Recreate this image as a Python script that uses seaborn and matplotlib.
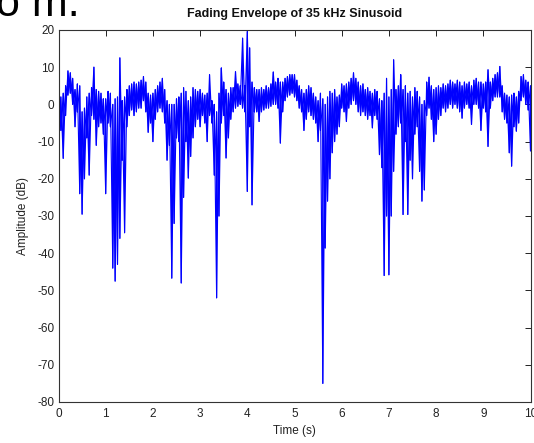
import numpy as np
import pandas as pd
import matplotlib
matplotlib.use("Agg")
import matplotlib.pyplot as plt
import seaborn as sns

# ---- data (per 0.05 s bin: envelope max / min in dB) ----
time_s = np.linspace(0, 10, 201)

upper_db = [
    2.5, 2, 3, 5, 9, 8.5, 7, 4, 5.5, 5,
    -2, -1, 2, 3, 4.5, 10, 4, 3.5, 3, 1.5,
    1.5, 3.5, 3, 0, 1.5, 2, 12.5, 1, 2, 4,
    5, 5.5, 6, 5.5, 6, 6.5, 7.5, 6, 3, 2.5,
    3, 4, 5, 6, 7, 4, 1, 0, 0, 0,
    1.5, 2, 3, 4.5, 3.5, 1, 2, 4.5, 4, 3.5,
    4, 3, 2.5, 3, 8, 1, 0, -2, 3, 9.8,
    6, 4, 3, 4.5, 4.5, 8.8, 5.5, 5, 17.8, 5,
    19.6, 15.2, 6, 4.5, 4, 4, 4.5, 4, 5, 4.5,
    5.5, 8.7, 6, 7, 6, 6, 7, 7.5, 8, 8,
    8, 6.5, 5, 4, 3, 4, 5, 4.5, 3, 2,
    1, 3, 1.5, 0, 2, 3.5, 3, 4, 2, 2.5,
    5.5, 5, 5.5, 6, 7, 8.5, 7, 6, 5, 5.5,
    4, 4.5, 3.5, 3, 4, 3.5, 1.5, 1, 3, 7,
    2, 4, 12, 4, 5, 8, 4, 5, 3, 3.5,
    2, 4.5, 3.5, 2, 0, 1, 6, 7.3, 5, 4,
    4.5, 5, 4.5, 5.5, 5, 5.5, 6.5, 6, 5.5, 6.5,
    6, 5, 6, 5.5, 6, 5, 6.5, 7, 6, 6,
    5.5, 6, 9.3, 6, 7, 8, 8.5, 10.2, 5, 3,
    2.5, 2, 2.5, 3, 2, 3.5, 7.5, 8, 6.5, 6,
    5,
]

lower_db = [
    -6.5, -7, -14.5, -3, 2.5, 3, 0, -6, -2, -24,
    -29.5, -20, -9, -19, -3, -4, -11, -6, -5, -8,
    -24, -5, -6, -44, -47.5, -43, -36, -15, -34.5, -6,
    -3, -1.5, -3, -2, -1, -1, 1, -2, -7.5, -5,
    -10, -4, -2, -1, -2, -5, -15, -11, -46.7, -32,
    -9, -10, -48, -25, -10, -19.8, -14, -9, -6, -4,
    -6, -3, -5, -10, -3, -5, -19, -52, -30, -5,
    -3, -14.4, -9, -4, -2, -1, -0.5, 0, -1, -2,
    -23.4, -6, -27, -2, -2, -4.6, -2, -1.5, -1, -1,
    -0.5, 0, 0, -1, -10.4, -2, 1, 2, 2.5, 3,
    2, 1, -1, -2, -7, -4, -2, -3, -4, -5,
    -10, -7, -75, -38.6, -26, -20, -13, -10, -8, -6,
    -1, -2, -4.6, -1, 0, 1, 0, -2, -3, -2,
    -3, -4, -3, -6.3, -3, -4, -13.5, -17, -46, -30,
    -45.8, -30, -18, -8, -6, -5, -29.6, -10, -29.6, -15,
    -20, -8, -6, -18, -26, -23, -3, -1, -4, -10,
    -8, -4, -3, -1, -2, -1, 0, -1, 0, -1,
    -2, -3.7, -1, 0, -1, -5.4, 0, 0, -1, -7,
    -1, -2, -11.3, -1, 1, 2, 2, 2, -2, -4,
    -5, -13, -16.6, -6, -7.2, -5, 1, 2, 0, -1.5,
    -12.5,
]

x_ticks = list(range(0, 11))
y_ticks = list(range(-80, 21, 10))

# the envelope is drawn as a dense trace that swings between max and min of
# every bin; two traversal orders give the crossing texture of a dense signal
t_rep = np.repeat(time_s, 2)
trace_a = pd.DataFrame({
    "Time (s)": t_rep,
    "Amplitude (dB)": np.column_stack([upper_db, lower_db]).ravel(),
})
trace_b = pd.DataFrame({
    "Time (s)": t_rep,
    "Amplitude (dB)": np.column_stack([lower_db, upper_db]).ravel(),
})

sns.set_theme(style="white")
plt.rcParams["font.family"] = ["Liberation Sans", "DejaVu Sans"]

fig = plt.figure(figsize=(5.34, 4.43), dpi=100)
ax = fig.add_axes([58.5 / 534, 1 - 402 / 443, 472 / 534, 372 / 443])

for tr in (trace_a, trace_b):
    sns.lineplot(data=tr, x="Time (s)", y="Amplitude (dB)", sort=False,
                 estimator=None, color="#0000ff", linewidth=0.8, ax=ax)

ax.set_xlim(0, 10)
ax.set_ylim(-80, 20)
ax.set_xticks(x_ticks)
ax.set_yticks(y_ticks)
ax.set_xticklabels([str(v) for v in x_ticks])
ax.set_yticklabels([str(v) for v in y_ticks])
ax.tick_params(direction="in", top=True, right=True, length=4, width=0.7,
               colors="#222222", labelsize=8.5, pad=4)
ax.tick_params(axis="y", pad=3)
for s in ax.spines.values():
    s.set_visible(True)
    s.set_color("#333333")
    s.set_linewidth(0.8)

ax.set_xlabel("Time (s)", fontsize=8.5, labelpad=4, color="#222222")
ax.set_ylabel("Amplitude (dB)", fontsize=8.5, labelpad=6, color="#222222")
ax.set_title("Fading Envelope of 35 kHz Sinusoid", fontsize=9,
             fontweight="bold", pad=9, color="#111111")

fig.text(-4 / 534, 1 - 16 / 443, "o m.", fontsize=31, color="black",
         ha="left", va="baseline")

fig.savefig("out.png", dpi=100)
